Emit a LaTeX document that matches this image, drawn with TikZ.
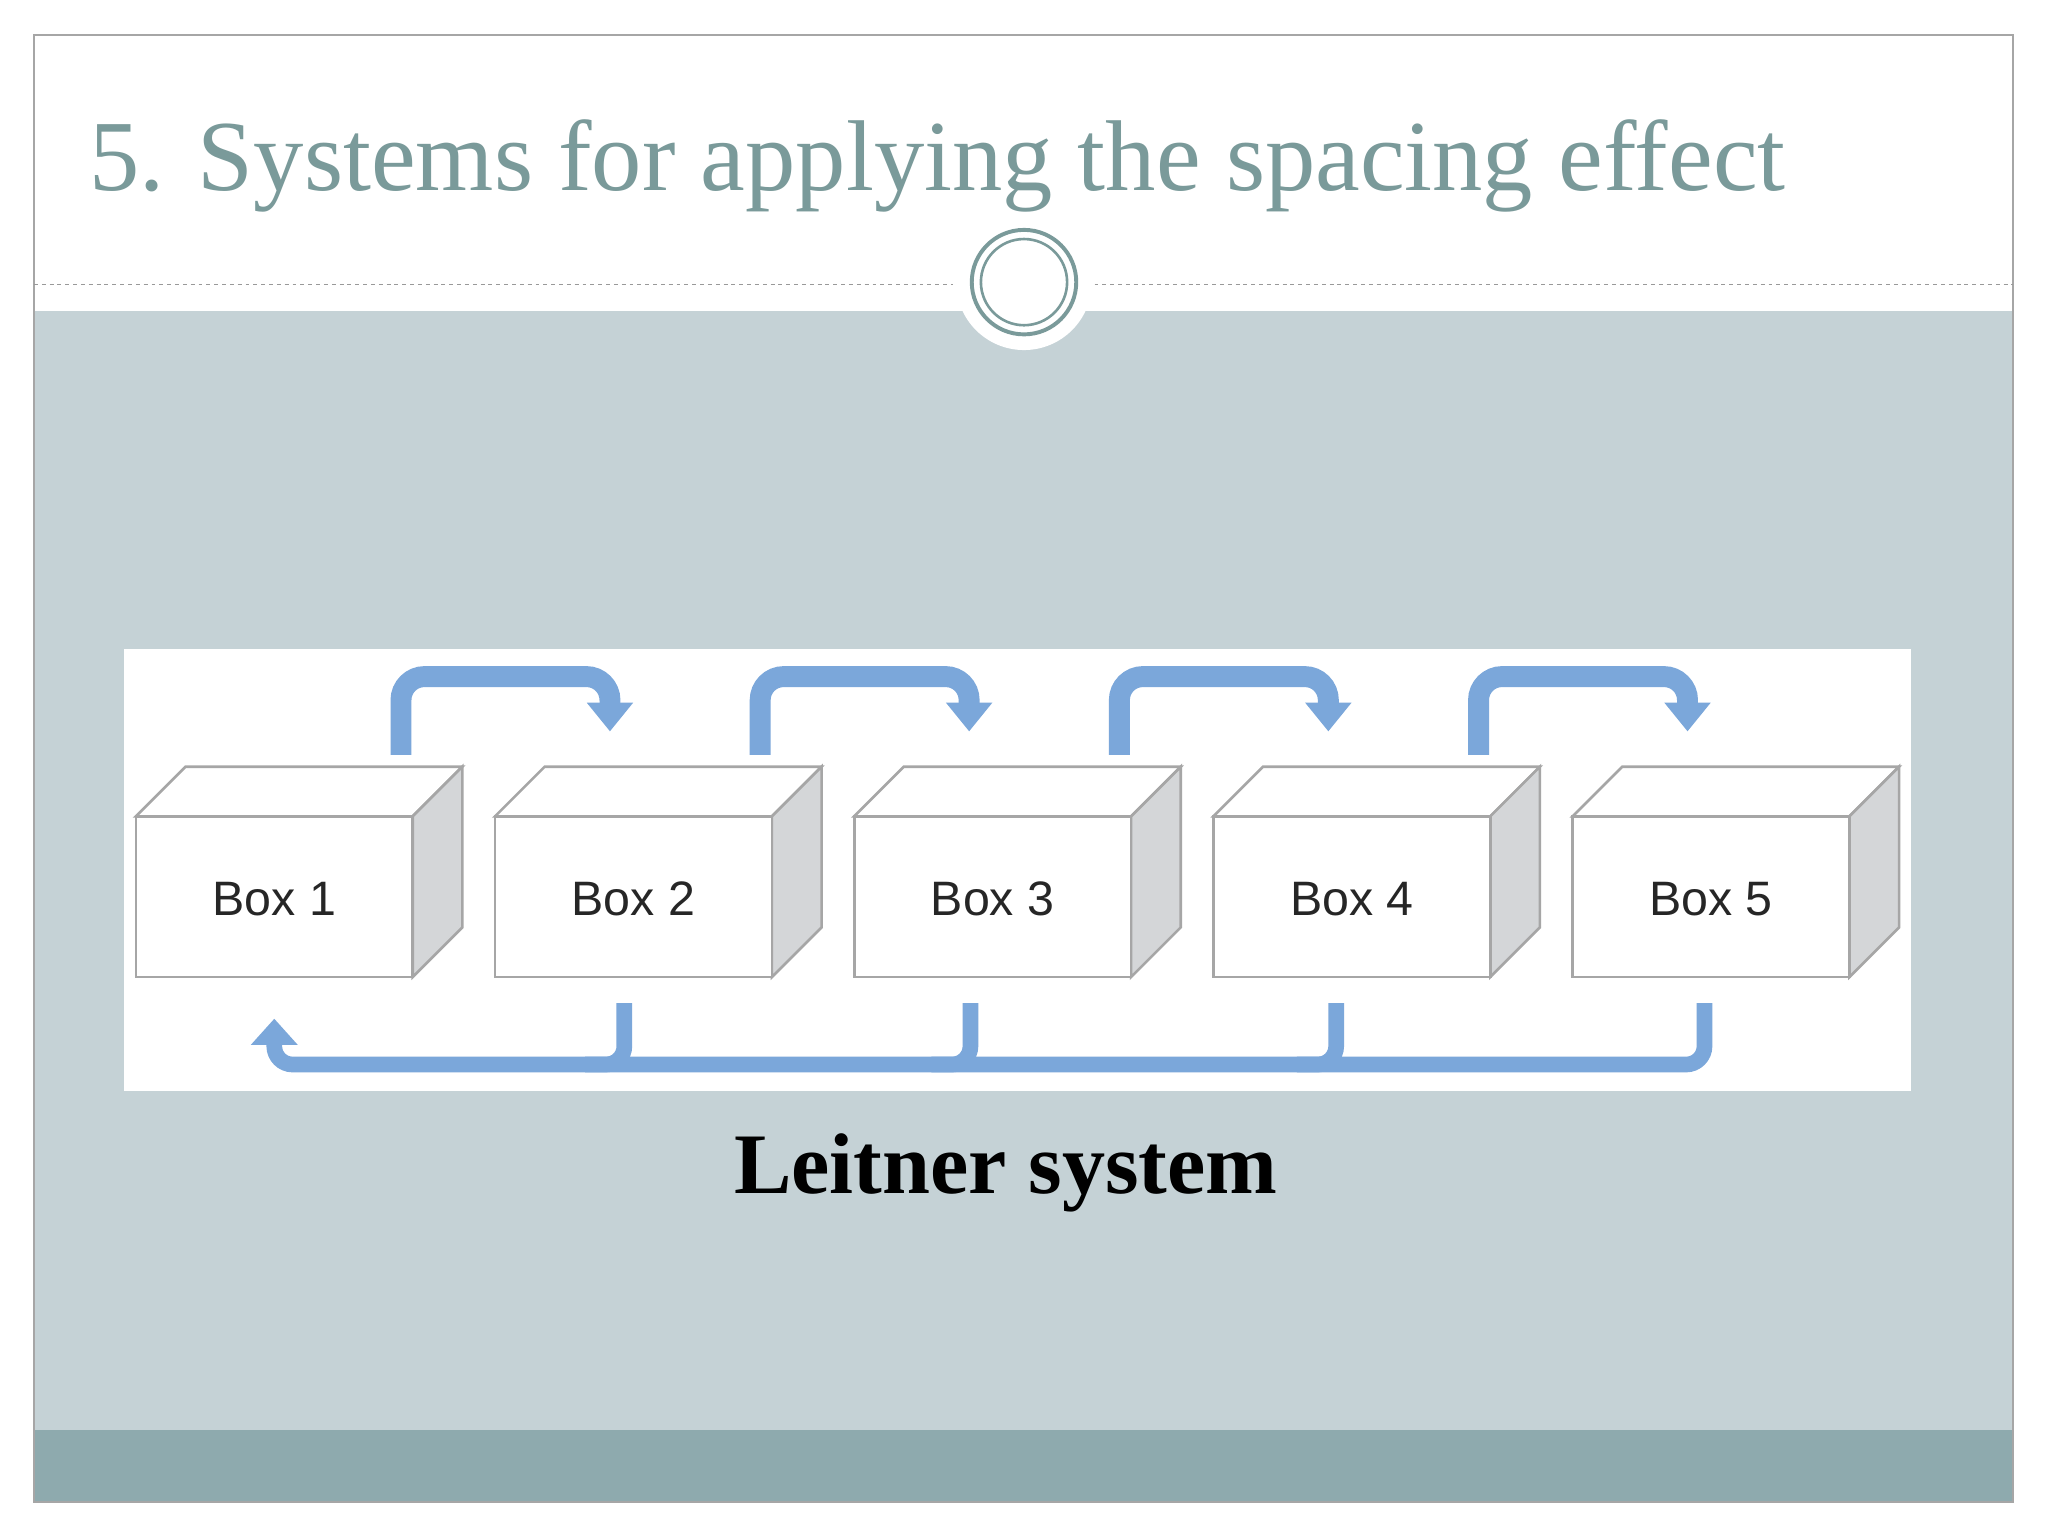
\documentclass[tikz,border=0pt]{standalone}
\usepackage{fontspec}
\setmainfont{Liberation Serif}
\newfontfamily\boxfont{Liberation Sans}
\usetikzlibrary{arrows.meta}
\definecolor{titlec}{HTML}{7A9A9A}
\definecolor{areac}{HTML}{C5D2D6}
\definecolor{bandc}{HTML}{8EAAAE}
\definecolor{arrc}{HTML}{7BA7DA}
\definecolor{sidec}{HTML}{D4D6D8}
\begin{document}
\begin{tikzpicture}[x=1pt,y=-1pt,
  flow/.style={draw=arrc,line width=16pt,rounded corners=18pt,-{Triangle[length=22pt,width=34pt]}},
  flowb/.style={draw=arrc,line width=12pt,rounded corners=14pt},
  face/.style={draw=gray!70,line width=2pt,fill=white},
  lab/.style={font=\boxfont\fontsize{37}{42}\selectfont,text=black!85}]
\useasboundingbox (0,0) rectangle (1568,1176);
\fill[white] (0,0) rectangle (1568,1176);
\fill[areac] (26,238) rectangle (1541,1095);
\fill[bandc] (26,1095) rectangle (1541,1150);
\draw[gray!70,line width=1.5pt] (26,27) rectangle (1541,1150);
\draw[gray!80,dashed,line width=1pt] (26,218) -- (730,218);
\draw[gray!80,dashed,line width=1pt] (838,218) -- (1541,218);
\node[circle,fill=white,minimum size=104pt,inner sep=0pt] (bump) at (784,216) {};
\node[circle,draw=titlec,line width=3pt,minimum size=80pt,inner sep=0pt] (c1) at (784,216) {};
\node[circle,draw=titlec,line width=2pt,minimum size=66pt,inner sep=0pt] (c2) at (784,216) {};
\node[anchor=base west,text=titlec,font=\fontsize{77}{82}\selectfont,inner sep=0pt] (title) at (68,146) {5. Systems for applying the spacing effect};
\fill[white] (95,497) rectangle (1463,835);
% top arrows
\foreach \i in {0,1,2,3}{
  \coordinate (ts\i) at (307+\i*275,578);
  \coordinate (te\i) at (467+\i*275,560);
  \draw[flow] (ts\i) -- (307+\i*275,518) -- (467+\i*275,518) -- (te\i);
}
% bottom arrows
\draw[flowb] (1305,768) -- (1305,815) -- (210,815) -- (210,800);
\foreach \x in {478,743,1023}{ \draw[flowb] (\x,768) -- (\x,815) -- (\x-30,815); }
\fill[arrc] (192,800) -- (228,800) -- (210,780) -- cycle;
% boxes
\foreach \i in {1,...,5}{
  \pgfmathsetmacro\xo{104+(\i-1)*275}
  \begin{scope}[shift={(\xo,0)}]
    \draw[face] (0,625) -- (38,587) -- (250,587) -- (212,625) -- cycle;
    \draw[face,fill=sidec] (212,625) -- (250,587) -- (250,710) -- (212,748) -- cycle;
    \draw[face] (0,625) rectangle (212,748);
    \node[lab] (b\i) at (106,688) {Box \i};
  \end{scope}
}
\node[font=\bfseries\fontsize{66}{72}\selectfont] (cap) at (770,898) {Leitner system};
\end{tikzpicture}
\end{document}
